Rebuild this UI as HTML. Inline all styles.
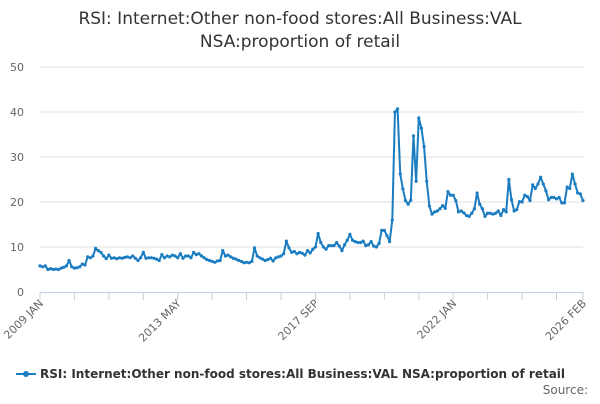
<!DOCTYPE html>
<html><head><meta charset="utf-8"><style>
body{margin:0;background:#fff;font-family:"DejaVu Sans","Liberation Sans",sans-serif}
</style></head><body>
<svg width="600" height="400" xmlns="http://www.w3.org/2000/svg" font-family="DejaVu Sans, Liberation Sans, sans-serif">
<text x="300" y="24" text-anchor="middle" font-size="17" fill="#333">RSI: Internet:Other non-food stores:All Business:VAL</text>
<text x="300" y="47" text-anchor="middle" font-size="17" fill="#333">NSA:proportion of retail</text>
<g id="grid"></g>
<g id="yl"></g>
<g id="xa"></g>
<g id="series"></g>
<g>
<line x1="16" y1="374" x2="36" y2="374" stroke="#1a7cc1" stroke-width="2"/>
<circle cx="26" cy="374" r="3" fill="#1a7cc1"/>
<text x="40" y="378" font-size="12" font-weight="bold" fill="#333">RSI: Internet:Other non-food stores:All Business:VAL NSA:proportion of retail</text>
</g>
<text x="588" y="394" text-anchor="end" font-size="12" fill="#666">Source:</text>
</svg>
<script>
const yTicks=[0,10,20,30,40,50];
const xLabels=["2009 JAN","2013 MAY","2017 SEP","2022 JAN","2026 FEB"];
const xLabelIdx=[0,52,104,156,205];
const values=[
5.8,5.6,5.8,5.0,5.2,5.0,5.1,5.0,5.3,5.5,5.8,7.0,
5.6,5.3,5.4,5.6,6.2,6.0,7.8,7.6,8.0,9.7,9.2,8.8,
8.0,7.4,8.2,7.5,7.6,7.4,7.6,7.5,7.7,7.8,7.6,8.0,
7.5,7.0,7.6,8.8,7.5,7.6,7.6,7.5,7.3,7.0,8.3,7.6,
8.0,7.8,8.2,8.0,7.6,8.5,7.5,8.0,8.0,7.6,8.8,8.3,
8.5,8.0,7.6,7.2,7.0,6.8,6.6,6.9,7.0,9.2,8.0,8.2,
7.8,7.5,7.3,7.0,6.8,6.5,6.6,6.5,6.8,9.8,8.0,7.6,
7.3,7.0,7.2,7.5,6.9,7.6,7.8,8.0,8.5,11.3,9.8,8.8,
9.0,8.5,8.8,8.6,8.2,9.2,8.7,9.5,10.0,13.0,11.0,10.0,
9.5,10.3,10.3,10.3,11.0,10.2,9.2,10.5,11.5,12.8,11.5,11.2,
11.0,11.0,11.3,10.3,10.5,11.2,10.2,10.0,10.8,13.7,13.7,12.5,
11.2,16.0,40.0,40.7,26.2,22.9,20.3,19.5,20.4,34.7,24.6,38.7,
36.4,32.3,24.6,19.1,17.3,17.8,18.0,18.5,19.2,18.6,22.3,21.5,
21.5,20.3,17.8,18.0,17.6,17.0,16.8,17.5,18.5,22.0,19.5,18.5,
16.8,17.5,17.5,17.3,17.5,18.0,17.0,18.3,17.8,25.0,20.5,18.0,
18.3,20.1,20.0,21.5,21.2,20.3,23.8,23.0,24.0,25.5,24.0,22.5,
20.5,21.0,21.0,20.7,21.0,19.8,19.8,23.3,23.0,26.2,24.0,22.0,
21.8,20.3];
const NS="http://www.w3.org/2000/svg";
const x0=40,x1=583,y0=292,y1=67,n=values.length;
function xs(i){return x0+(x1-x0)*i/(n-1);}
function ys(v){return y0-(y0-y1)*v/50;}
function mk(t,a,p){const e=document.createElementNS(NS,t);for(const k in a)e.setAttribute(k,a[k]);p.appendChild(e);return e;}
const grid=document.getElementById('grid'),yl=document.getElementById('yl'),xa=document.getElementById('xa'),ser=document.getElementById('series');
yTicks.forEach(v=>{
 if(v>0){const g=mk('line',{x1:x0,x2:x1,y1:ys(v),y2:ys(v),stroke:'#e0e0e0','stroke-width':1},grid);
 
 }
 const t=mk('text',{x:24,y:ys(v)+4,'text-anchor':'end','font-size':11,fill:'#666'},yl);t.textContent=v;
 
 
});
mk('line',{x1:x0,x2:x1,y1:y0+0.5,y2:y0+0.5,stroke:'#c0d0e0','stroke-width':1},xa);
for(let i=0;i<n;i+=13){mk('line',{x1:xs(i),x2:xs(i),y1:y0,y2:y0+8,stroke:'#c0d0e0'},xa);}
mk('line',{x1:xs(n-1),x2:xs(n-1),y1:y0,y2:y0+8,stroke:'#c0d0e0'},xa);
xLabels.forEach((l,k)=>{const x=xs(xLabelIdx[k]);
 const t=mk('text',{x:x+4,y:y0+12,'text-anchor':'end','font-size':11,fill:'#666',transform:`rotate(-45 ${x+4} ${y0+12})`},xa);t.textContent=l;
 
 
});
const pts=values.map((v,i)=>xs(i).toFixed(2)+','+ys(v).toFixed(2)).join(' ');
const pl=mk('polyline',{points:pts,fill:'none',stroke:'#1a7cc1','stroke-width':2,'stroke-linejoin':'round'},ser);


values.forEach((v,i)=>{const c=mk('circle',{cx:xs(i),cy:ys(v),r:1.6,fill:'#1a7cc1'},ser);
 
 });
</script>
</body></html>
